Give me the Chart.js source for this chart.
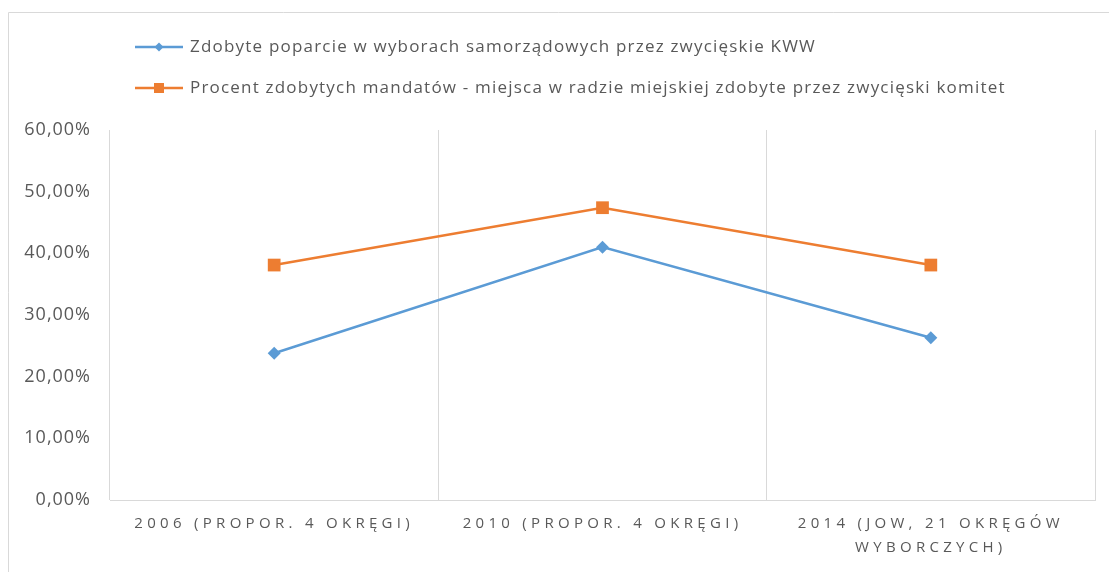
<!DOCTYPE html>
<html>
<head>
<meta charset="utf-8">
<script src="https://cdn.jsdelivr.net/npm/chart.js@4"></script>
<style>
  html, body { margin: 0; padding: 0; background: #fff; }
  #wrap { width: 1109px; height: 572px; }
</style>
</head>
<body>
<div id="wrap"><canvas id="chart" width="1109" height="572"></canvas></div>
<script>
// dane
const categories = [
  "2006 (PROPOR. 4 OKRĘGI)",
  "2010 (PROPOR. 4 OKRĘGI)",
  ["2014 (JOW, 21 OKRĘGÓW", "WYBORCZYCH)"],
];
const supportLabel = "Zdobyte poparcie w wyborach samorządowych przez zwycięskie KWW";
const seatsLabel = "Procent zdobytych mandatów - miejsca w radzie miejskiej zdobyte przez zwycięski komitet";
const supportValues = [0.238, 0.41, 0.263];
const seatsValues = [0.381, 0.474, 0.381];
const yTicks = [0, 0.1, 0.2, 0.3, 0.4, 0.5, 0.6];

const blue = "#5B9BD5";
const orange = "#ED7D31";
const textColor = "#595959";
const gridColor = "#D9D9D9";
const fontFamily = "'Open Sans', 'Noto Sans', sans-serif";

function formatPercent(v) {
  return (v * 100).toFixed(2).replace(".", ",") + "%";
}

// ramka wokół wykresu (jak w Excelu)
const framePlugin = {
  id: "frame",
  beforeDraw(chart) {
    const ctx = chart.ctx;
    ctx.save();
    ctx.strokeStyle = gridColor;
    ctx.lineWidth = 1;
    ctx.beginPath();
    ctx.moveTo(8.5, chart.height);
    ctx.lineTo(8.5, 12.5);
    ctx.lineTo(chart.width, 12.5);
    ctx.stroke();
    ctx.restore();
    // lekki odstęp liter dla etykiet osi Y
    ctx.letterSpacing = "1px";
  },
  // szerszy odstęp liter w etykietach osi X (rysowane po seriach, z: 1)
  afterDatasetsDraw(chart) {
    chart.ctx.letterSpacing = "4.3px";
  },
  afterDraw(chart) {
    chart.ctx.letterSpacing = "0px";
  },
};

// legenda: linia z markerem, w dwóch wierszach po lewej
const lineLegendPlugin = {
  id: "lineLegend",
  afterDraw(chart) {
    const ctx = chart.ctx;
    ctx.save();
    chart.data.datasets.forEach((ds, i) => {
      const y = 47 + i * 41;
      const x0 = 135;
      const x1 = 183;
      ctx.letterSpacing = "0px";
      ctx.strokeStyle = ds.borderColor;
      ctx.lineWidth = 2.5;
      ctx.beginPath();
      ctx.moveTo(x0, y);
      ctx.lineTo(x1, y);
      ctx.stroke();
      const cx = (x0 + x1) / 2;
      ctx.fillStyle = ds.backgroundColor;
      ctx.beginPath();
      if (ds.pointStyle === "rectRot") {
        ctx.moveTo(cx, y - 4.5);
        ctx.lineTo(cx + 4.5, y);
        ctx.lineTo(cx, y + 4.5);
        ctx.lineTo(cx - 4.5, y);
        ctx.closePath();
      } else {
        ctx.rect(cx - 5, y - 5, 10, 10);
      }
      ctx.fill();
      ctx.fillStyle = textColor;
      ctx.font = "17px " + fontFamily;
      ctx.letterSpacing = "1.2px";
      ctx.textBaseline = "middle";
      ctx.textAlign = "left";
      ctx.fillText(ds.label, 190, y);
    });
    ctx.restore();
  },
};

const ctx = document.getElementById("chart").getContext("2d");
const chart = new Chart(ctx, {
  type: "line",
  data: {
    labels: categories,
    datasets: [
      {
        label: supportLabel,
        data: supportValues,
        borderColor: blue,
        backgroundColor: blue,
        borderWidth: 2.5,
        pointStyle: "rectRot",
        pointRadius: 6.5,
        pointBorderWidth: 0,
        tension: 0,
      },
      {
        label: seatsLabel,
        data: seatsValues,
        borderColor: orange,
        backgroundColor: orange,
        borderWidth: 2.5,
        pointStyle: "rect",
        pointRadius: 9,
        pointBorderWidth: 0,
        tension: 0,
      },
    ],
  },
  options: {
    responsive: false,
    animation: false,
    layout: { padding: { left: 10, right: 14, top: 130, bottom: 0 } },
    plugins: {
      legend: { display: false },
      tooltip: { enabled: false },
    },
    scales: {
      x: {
        offset: true,
        grid: { display: true, offset: true, color: gridColor, drawTicks: false },
        border: { display: true, color: gridColor },
        ticks: {
          z: 1,
          color: textColor,
          padding: 12,
          maxRotation: 0,
          autoSkip: false,
          font: { family: fontFamily, size: 15, lineHeight: 1.6 },
        },
        afterFit(scale) {
          scale.height = 72;
        },
      },
      y: {
        min: 0,
        max: 0.6,
        afterBuildTicks(scale) {
          scale.ticks = yTicks.map((v) => ({ value: v }));
        },
        grid: { display: false, drawTicks: false },
        border: { display: false },
        ticks: {
          color: textColor,
          padding: 19,
          font: { family: fontFamily, size: 18 },
          callback: (v) => formatPercent(v),
        },
        afterFit(scale) {
          scale.width = 100;
        },
      },
    },
  },
  plugins: [framePlugin, lineLegendPlugin],
});
</script>
</body>
</html>
